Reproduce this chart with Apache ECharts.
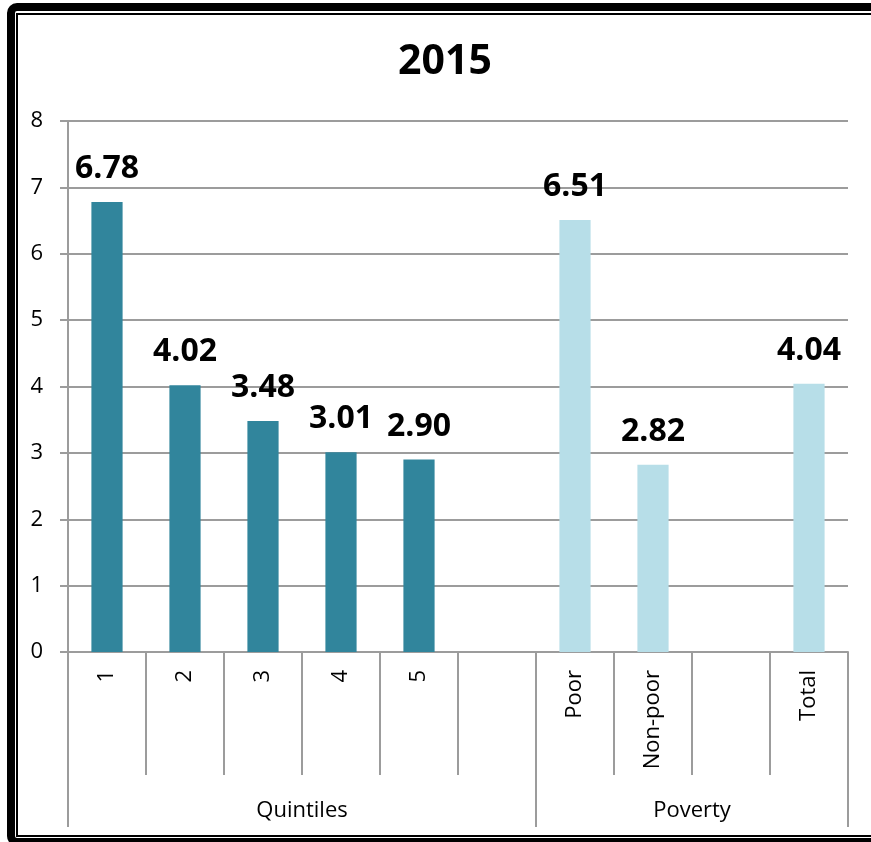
<!DOCTYPE html>
<html>
<head>
<meta charset="utf-8">
<script src="https://cdn.jsdelivr.net/npm/echarts@6/dist/echarts.min.js"></script>
<style>
  html, body { margin: 0; padding: 0; background: #fff; }
  #chart { width: 871px; height: 842px; }
</style>
</head>
<body>
<div id="chart"></div>
<script>
// Chart data
const chartTitle = '2015';
const categories = ['1', '2', '3', '4', '5', '', 'Poor', 'Non-poor', '', 'Total'];
const values = [6.78, 4.02, 3.48, 3.01, 2.90, null, 6.51, 2.82, null, 4.04];
const groupNames = ['Quintiles', 'Poverty'];
const groupSizes = [6, 4];
const yTicks = [0, 1, 2, 3, 4, 5, 6, 7, 8];

// Styling
const darkTeal = '#31859C';
const lightBlue = '#B7DEE8';
const gridGray = '#9C9C9C';
const font = '"Open Sans", "Noto Sans", sans-serif';

// Group boundaries and centres in category units
const groupEdges = [0];
groupSizes.forEach(s => groupEdges.push(groupEdges[groupEdges.length - 1] + s));
const groupCentres = groupSizes.map((s, i) => groupEdges[i] + s / 2);
const groupOfIndex = [];
groupSizes.forEach((s, g) => { for (let k = 0; k < s; k++) groupOfIndex.push(g); });
const groupColors = [darkTeal, lightBlue];

const barData = values.map((v, i) => ({
  value: v,
  itemStyle: { color: groupColors[groupOfIndex[i]] }
}));

const chart = echarts.init(document.getElementById('chart'), null, { renderer: 'canvas' });

chart.setOption({
  animation: false,
  backgroundColor: '#fff',
  title: {
    text: chartTitle,
    left: 440,
    top: 37,
    textAlign: 'center',
    textStyle: { fontFamily: font, fontSize: 41, fontWeight: 'bold', color: '#000' }
  },
  graphic: [
    {
      type: 'rect',
      shape: { x: 11, y: 7, width: 900, height: 835, r: 6 },
      style: { fill: null, stroke: '#000', lineWidth: 8 },
      silent: true
    },
    {
      type: 'rect',
      shape: { x: 17, y: 14, width: 900, height: 822 },
      style: { fill: null, stroke: '#000', lineWidth: 2 },
      silent: true
    }
  ],
  grid: { left: 68, right: 23, top: 121, bottom: 190, containLabel: false },
  xAxis: [
    {
      type: 'category',
      data: categories,
      boundaryGap: true,
      axisLine: { show: true, lineStyle: { color: gridGray, width: 2 } },
      axisTick: { show: true, interval: 0, length: 123, lineStyle: { color: gridGray, width: 2 } },
      axisLabel: {
        interval: 0,
        rotate: 90,
        margin: 18,
        fontFamily: font,
        fontSize: 22,
        color: '#000'
      },
      splitLine: { show: false }
    },
    {
      type: 'value',
      min: 0,
      max: categories.length,
      position: 'bottom',
      axisLine: { show: false },
      splitLine: { show: false },
      axisTick: {
        show: true,
        customValues: groupEdges,
        length: 175,
        lineStyle: { color: gridGray, width: 2 }
      },
      axisLabel: {
        customValues: groupCentres,
        formatter: v => groupNames[groupCentres.indexOf(v)] || '',
        margin: 148,
        fontFamily: font,
        fontSize: 22,
        color: '#000'
      }
    }
  ],
  yAxis: {
    type: 'value',
    min: yTicks[0],
    max: yTicks[yTicks.length - 1],
    interval: 1,
    axisLine: { show: true, lineStyle: { color: gridGray, width: 2 } },
    axisTick: { show: true, length: 8, lineStyle: { color: gridGray, width: 2 } },
    axisLabel: { margin: 25, fontFamily: font, fontSize: 22, color: '#000' },
    splitLine: { show: true, lineStyle: { color: gridGray, width: 2 } }
  },
  series: [
    {
      type: 'bar',
      xAxisIndex: 0,
      yAxisIndex: 0,
      data: barData,
      barWidth: '40%',
      label: {
        show: true,
        position: 'top',
        distance: 17,
        formatter: p => (p.value == null ? '' : Number(p.value).toFixed(2)),
        fontFamily: font,
        fontSize: 32,
        fontWeight: 'bold',
        color: '#000'
      }
    }
  ]
});
</script>
</body>
</html>
